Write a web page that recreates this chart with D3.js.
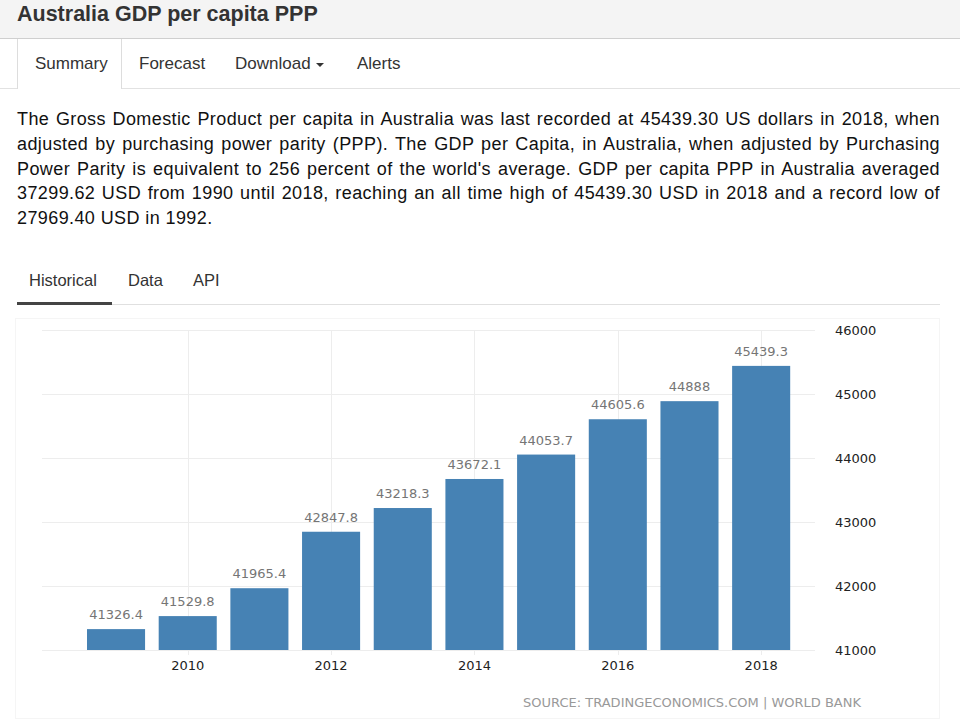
<!DOCTYPE html>
<html>
<head>
<meta charset="utf-8">
<script src="https://cdn.jsdelivr.net/npm/d3@7"></script>
<style>
  html, body { margin: 0; padding: 0; background: #fff; width: 960px; height: 721px; overflow: hidden; }
  body { font-family: Arial, "Liberation Sans", sans-serif; color: #222; position: relative; }
  .titlebar { position: absolute; left: 0; top: 0; width: 960px; height: 38px; background: #f4f4f4; border-bottom: 1px solid #cfcfcf; }
  .titlebar h1 { position: absolute; left: 17px; top: 3px; margin: 0; font-size: 21.5px; font-weight: bold; color: #333; line-height: 22px; }
  .tabs { position: absolute; left: 0; top: 39px; width: 960px; height: 49px; border-bottom: 1px solid #e2e2e2; }
  .tab { position: absolute; top: 0; height: 49px; line-height: 49px; font-size: 17px; color: #333; }
  .tab.active { background: #fff; border-left: 1px solid #ddd; border-right: 1px solid #ddd; height: 50px; }
  .caret { display: inline-block; width: 0; height: 0; border-left: 4px solid transparent; border-right: 4px solid transparent; border-top: 4px solid #333; vertical-align: middle; margin-left: 5px; }
  .desc { position: absolute; left: 17px; top: 107px; width: 923px; font-size: 18px; letter-spacing: 0.4px; line-height: 24.8px; color: #111; margin: 0; }
  .desc span { display: block; text-align: justify; text-align-last: justify; white-space: nowrap; }
  .desc span.last { text-align-last: left; }
  .subtabs { position: absolute; left: 17px; top: 262px; width: 923px; height: 42px; border-bottom: 1px solid #e0e0e0; }
  .subtab { position: absolute; top: 0; height: 40px; line-height: 36px; font-size: 16.5px; color: #333; }
  .subtab.active { border-bottom: 3px solid #444; }
  svg { position: absolute; left: 0; top: 0; }
</style>
</head>
<body>
<div class="titlebar"><h1>Australia GDP per capita PPP</h1></div>
<div class="tabs">
  <div class="tab active" style="left:17px;width:103px;"><span style="padding-left:17px">Summary</span></div>
  <div class="tab" style="left:139px;">Forecast</div>
  <div class="tab" style="left:235px;">Download<span class="caret"></span></div>
  <div class="tab" style="left:357px;">Alerts</div>
</div>
<p class="desc"><span>The Gross Domestic Product per capita in Australia was last recorded at 45439.30 US dollars in 2018, when</span><span>adjusted by purchasing power parity (PPP). The GDP per Capita, in Australia, when adjusted by Purchasing</span><span>Power Parity is equivalent to 256 percent of the world's average. GDP per capita PPP in Australia averaged</span><span>37299.62 USD from 1990 until 2018, reaching an all time high of 45439.30 USD in 2018 and a record low of</span><span class="last">27969.40 USD in 1992.</span></p>
<div class="subtabs">
  <div class="subtab active" style="left:0;width:95px;"><span style="padding-left:12px">Historical</span></div>
  <div class="subtab" style="left:111px;">Data</div>
  <div class="subtab" style="left:176px;">API</div>
</div>
<svg id="chart" width="960" height="721"></svg>
<script>
const years = ["2009","2010","2011","2012","2013","2014","2015","2016","2017","2018"];
const values = [41326.4, 41529.8, 41965.4, 42847.8, 43218.3, 43672.1, 44053.7, 44605.6, 44888, 45439.3];
const valueLabels = ["41326.4","41529.8","41965.4","42847.8","43218.3","43672.1","44053.7","44605.6","44888","45439.3"];
const yTicks = [41000, 42000, 43000, 44000, 45000, 46000];
const xTickYears = ["2010","2012","2014","2016","2018"];
const sourceText = "SOURCE: TRADINGECONOMICS.COM | WORLD BANK";

const svg = d3.select("#chart");
const chartFont = "'DejaVu Sans', Verdana, sans-serif";

const x = d3.scaleBand().domain(years).range([80.2, 797]).paddingInner(0.19).paddingOuter(0.095);
const y = d3.scaleLinear().domain([41000, 46000]).range([650, 330]);

// faint outer frame
svg.append("rect").attr("x", 15.5).attr("y", 318.5).attr("width", 924).attr("height", 400)
  .attr("fill", "none").attr("stroke", "#f5f5f5");

// horizontal gridlines
svg.append("g").selectAll("line").data(yTicks).join("line")
  .attr("x1", 42).attr("x2", 815)
  .attr("y1", d => Math.round(y(d)) + 0.5).attr("y2", d => Math.round(y(d)) + 0.5)
  .attr("stroke", "#ededed").attr("stroke-width", 1);

// vertical gridlines
svg.append("g").selectAll("line").data(xTickYears).join("line")
  .attr("x1", d => Math.round(x(d) + x.bandwidth() / 2) + 0.5)
  .attr("x2", d => Math.round(x(d) + x.bandwidth() / 2) + 0.5)
  .attr("y1", y(46000)).attr("y2", y(41000) + 5)
  .attr("stroke", "#ededed").attr("stroke-width", 1);

// bars
svg.append("g").selectAll("rect").data(values).join("rect")
  .attr("x", (d, i) => x(years[i]))
  .attr("width", x.bandwidth())
  .attr("y", d => y(d))
  .attr("height", d => y(41000) - y(d))
  .attr("fill", "#4682b4");

// value labels
svg.append("g").selectAll("text").data(values).join("text")
  .attr("x", (d, i) => x(years[i]) + x.bandwidth() / 2)
  .attr("y", d => y(d) - 10)
  .attr("text-anchor", "middle")
  .attr("font-family", chartFont).attr("font-size", 13)
  .attr("fill", "#757575")
  .text((d, i) => valueLabels[i]);

// y axis labels (right)
const yAxis = d3.axisRight(y).tickValues(yTicks).tickSize(0).tickPadding(0).tickFormat(d3.format("d"));
const yg = svg.append("g").attr("transform", "translate(835,0)").call(yAxis);
yg.select(".domain").remove();
yg.selectAll("text").attr("font-family", chartFont).attr("font-size", 13).attr("fill", "#222");

// x axis labels
const xAxis = d3.axisBottom(x).tickValues(xTickYears).tickSize(0).tickPadding(0);
const xg = svg.append("g").attr("transform", "translate(0,661)").call(xAxis);
xg.select(".domain").remove();
xg.selectAll("text").attr("font-family", chartFont).attr("font-size", 13).attr("fill", "#222").attr("dy", "0.71em");

// source
svg.append("text").attr("x", 861).attr("y", 707).attr("text-anchor", "end")
  .attr("font-family", chartFont).attr("font-size", 13).attr("fill", "#999")
  .text(sourceText);
</script>
</body>
</html>
